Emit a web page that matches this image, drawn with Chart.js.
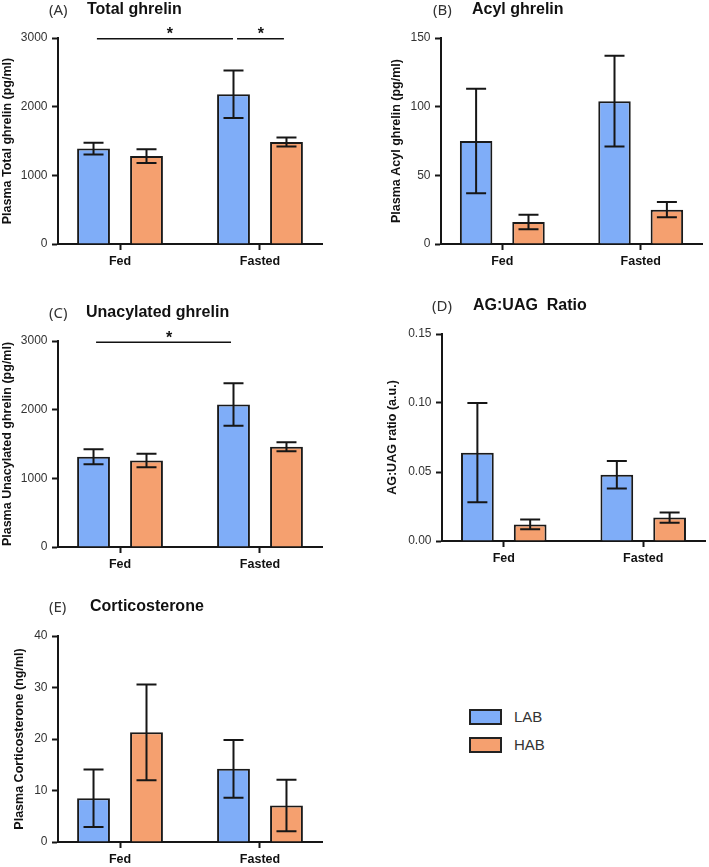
<!DOCTYPE html>
<html><head><meta charset="utf-8">
<script src="https://cdn.jsdelivr.net/npm/chart.js@4/dist/chart.umd.min.js"></script>
<style>
html,body{margin:0;padding:0;background:#fff;}
#page{position:relative;width:709px;height:867px;overflow:hidden;font-family:"Liberation Sans",Arial,sans-serif;}
canvas{position:absolute;}
.tag{position:absolute;font-family:"Noto Sans",sans-serif;font-size:15px;color:#333;line-height:20px;white-space:nowrap;}
.ttl{position:absolute;font-family:"Liberation Sans",Arial,sans-serif;font-weight:bold;font-size:16px;color:#111;line-height:20px;white-space:nowrap;}
.lgbox{position:absolute;width:29px;height:12px;border:2px solid #222;}
.lgtxt{position:absolute;font-family:"Liberation Sans",Arial,sans-serif;font-size:15px;color:#333;line-height:18px;}
</style></head>
<body><div id="page">
<canvas id="cA"></canvas><canvas id="cB"></canvas><canvas id="cC"></canvas><canvas id="cD"></canvas><canvas id="cE"></canvas>
<div class="tag" style="left:49px;top:-1px">(A)</div><div class="ttl" style="left:87px;top:-1px">Total ghrelin</div>
<div class="tag" style="left:433px;top:-1px">(B)</div><div class="ttl" style="left:472px;top:-1px">Acyl ghrelin</div>
<div class="tag" style="left:49px;top:302px">(C)</div><div class="ttl" style="left:86px;top:302px">Unacylated ghrelin</div>
<div class="tag" style="left:432px;top:295px">(D)</div><div class="ttl" style="left:473px;top:295px">AG:UAG&nbsp;&nbsp;Ratio</div>
<div class="tag" style="left:49px;top:596px">(E)</div><div class="ttl" style="left:90px;top:596px">Corticosterone</div>
<div id="legend"></div>
</div>
<script>
// ---- data ----
const categories = ['Fed', 'Fasted'];
const groups = ['LAB', 'HAB'];
const groupColors = ['#7FADF8', '#F5A06F'];

const totalLAB = [1390, 2180];   const totalLABErr = [85, 345];
const totalHAB = [1280, 1485];   const totalHABErr = [100, 65];
const totalTicks = [0, 1000, 2000, 3000];

const acylLAB = [75, 104];       const acylLABErr = [38, 33];
const acylHAB = [16, 25];        const acylHABErr = [5.3, 5.5];
const acylTicks = [0, 50, 100, 150];

const unacLAB = [1315, 2075];    const unacLABErr = [110, 310];
const unacHAB = [1260, 1460];    const unacHABErr = [98, 65];
const unacTicks = [0, 1000, 2000, 3000];

const ratioLAB = [0.064, 0.048]; const ratioLABErr = [0.036, 0.010];
const ratioHAB = [0.012, 0.017]; const ratioHABErr = [0.0035, 0.0037];
const ratioTicks = [0, 0.05, 0.10, 0.15];

const cortLAB = [8.5, 14.2];     const cortLABErr = [5.6, 5.6];
const cortHAB = [21.3, 7.1];     const cortHABErr = [9.3, 5.0];
const cortTicks = [0, 10, 20, 30, 40];

// significance bars: from/to/star in category units, y in data units
const sigTotal = [{from: -0.165, to: 0.807, star: 0.357, y: 2990}, {from: 0.836, to: 1.171, star: 1.007, y: 2990}];
const sigUnac = [{from: -0.171, to: 0.793, star: 0.35, y: 2980}];

// ---- plugins ----
const errorBars = {
  id: 'errorBars',
  afterDatasetsDraw(chart) {
    const ctx = chart.ctx, ys = chart.scales.y;
    chart.data.datasets.forEach((ds, i) => {
      const meta = chart.getDatasetMeta(i);
      meta.data.forEach((bar, j) => {
        const m = ds.data[j].y, e = ds.errs[j];
        const yt = ys.getPixelForValue(m + e), yb = ys.getPixelForValue(m - e);
        const hw = 10;
        ctx.save();
        ctx.strokeStyle = '#161616'; ctx.lineWidth = 2; ctx.lineCap = 'butt';
        ctx.beginPath();
        ctx.moveTo(bar.x, yt); ctx.lineTo(bar.x, yb);
        ctx.moveTo(bar.x - hw, yt); ctx.lineTo(bar.x + hw, yt);
        ctx.moveTo(bar.x - hw, yb); ctx.lineTo(bar.x + hw, yb);
        ctx.stroke();
        ctx.restore();
      });
    });
  }
};
const sigPlugin = {
  id: 'sigPlugin',
  afterDraw(chart, args, opts) {
    const list = opts.items || [];
    const ctx = chart.ctx, xs = chart.scales.x, ys = chart.scales.y;
    list.forEach(s => {
      const y = ys.getPixelForValue(s.y);
      ctx.save();
      ctx.strokeStyle = '#111'; ctx.lineWidth = 1.5;
      ctx.beginPath();
      ctx.moveTo(xs.getPixelForValue(s.from), y);
      ctx.lineTo(xs.getPixelForValue(s.to), y);
      ctx.stroke();
      ctx.fillStyle = '#111';
      ctx.font = 'bold 16px "Liberation Sans", Arial, sans-serif';
      ctx.textAlign = 'center'; ctx.textBaseline = 'alphabetic';
      ctx.fillText('*', xs.getPixelForValue(s.star), y + 0.5);
      ctx.restore();
    });
  }
};

const XH = 24;
function makePanel(p) {
  const cv = document.getElementById(p.id);
  cv.style.left = p.box.x + 'px'; cv.style.top = p.box.y + 'px';
  cv.width = p.box.w; cv.height = p.box.h;
  cv.style.width = p.box.w + 'px'; cv.style.height = p.box.h + 'px';
  const yw = p.area.l - p.box.x;
  const datasets = groups.map((g, gi) => ({
    label: g,
    data: categories.map((c, ci) => ({x: ci, y: p.vals[gi][ci]})),
    errs: p.errs[gi],
    backgroundColor: groupColors[gi],
    borderColor: '#1a1a1a',
    borderWidth: 2,
    categoryPercentage: 0.757,
    barPercentage: 0.62
  }));
  new Chart(cv, {
    type: 'bar',
    data: {datasets},
    options: {
      responsive: false, animation: false,
      layout: {padding: {left: 0, top: p.area.t - p.box.y, right: p.box.x + p.box.w - p.area.r, bottom: p.box.y + p.box.h - p.area.b - XH}},
      plugins: {legend: {display: false}, tooltip: {enabled: false}, sigPlugin: {items: p.sig || []}},
      scales: {
        x: {
          type: 'linear', min: -0.443, max: 1.443, offset: false,
          afterBuildTicks: s => { s.ticks = categories.map((c, i) => ({value: i})); },
          afterFit: s => { s.height = XH; },
          ticks: {callback: v => categories[v], color: '#111', padding: 4.5,
                  font: {family: '"Liberation Sans", Arial, sans-serif', size: 12.5, weight: 'bold'}, maxRotation: 0, autoSkip: false},
          grid: {display: true, drawOnChartArea: false, drawTicks: true, tickLength: 6, tickWidth: 2, tickColor: '#161616', offset: false},
          border: {display: true, color: '#161616', width: 2}
        },
        y: {
          min: p.ticks[0], max: p.ticks[p.ticks.length - 1],
          afterBuildTicks: s => { s.ticks = p.ticks.map(v => ({value: v})); },
          afterFit: s => { s.width = yw; },
          ticks: {callback: v => p.fmt ? p.fmt(v) : String(v), color: '#333', padding: 4.5,
                  font: {family: '"Liberation Sans", Arial, sans-serif', size: 12}},
          grid: {display: true, drawOnChartArea: false, drawTicks: true, tickLength: 6, tickWidth: 2, tickColor: '#161616'},
          border: {display: true, color: '#161616', width: 2},
          title: {display: true, text: p.ytitle, color: '#111', padding: {top: p.tpad, bottom: 0},
                  font: {family: '"Liberation Sans", Arial, sans-serif', size: 12.5, weight: 'bold', lineHeight: 1.2}}
        }
      }
    },
    plugins: [errorBars, sigPlugin]
  });
}

makePanel({id: 'cA', box: {x: 0, y: 0, w: 355, h: 280}, area: {l: 58, t: 38, r: 322, b: 244},
  vals: [totalLAB, totalHAB], errs: [totalLABErr, totalHABErr], ticks: totalTicks,
  ytitle: 'Plasma Total ghrelin (pg/ml)', tpad: 0, sig: sigTotal});
makePanel({id: 'cB', box: {x: 355, y: 0, w: 354, h: 280}, area: {l: 441, t: 38, r: 702, b: 244},
  vals: [acylLAB, acylHAB], errs: [acylLABErr, acylHABErr], ticks: acylTicks,
  ytitle: 'Plasma Acyl ghrelin (pg/ml)', tpad: 34});
makePanel({id: 'cC', box: {x: 0, y: 280, w: 355, h: 300}, area: {l: 58, t: 341, r: 322, b: 547},
  vals: [unacLAB, unacHAB], errs: [unacLABErr, unacHABErr], ticks: unacTicks,
  ytitle: 'Plasma Unacylated ghrelin (pg/ml)', tpad: 0, sig: sigUnac});
makePanel({id: 'cD', box: {x: 355, y: 280, w: 354, h: 300}, area: {l: 442, t: 334, r: 705, b: 541},
  vals: [ratioLAB, ratioHAB], errs: [ratioLABErr, ratioHABErr], ticks: ratioTicks,
  ytitle: 'AG:UAG ratio (a.u.)', tpad: 30, fmt: v => v.toFixed(2)});
makePanel({id: 'cE', box: {x: 0, y: 580, w: 355, h: 287}, area: {l: 58, t: 636, r: 322, b: 842},
  vals: [cortLAB, cortHAB], errs: [cortLABErr, cortHABErr], ticks: cortTicks,
  ytitle: 'Plasma Corticosterone (ng/ml)', tpad: 12.5});

// legend (HTML)
const lg = document.getElementById('legend');
groups.forEach((g, i) => {
  const top = 709 + i * 28;
  const b = document.createElement('div'); b.className = 'lgbox';
  b.style.left = '469px'; b.style.top = top + 'px'; b.style.background = groupColors[i];
  const t = document.createElement('div'); t.className = 'lgtxt';
  t.style.left = '514px'; t.style.top = (top - 1) + 'px'; t.textContent = g;
  lg.appendChild(b); lg.appendChild(t);
});
</script>
</body></html>
